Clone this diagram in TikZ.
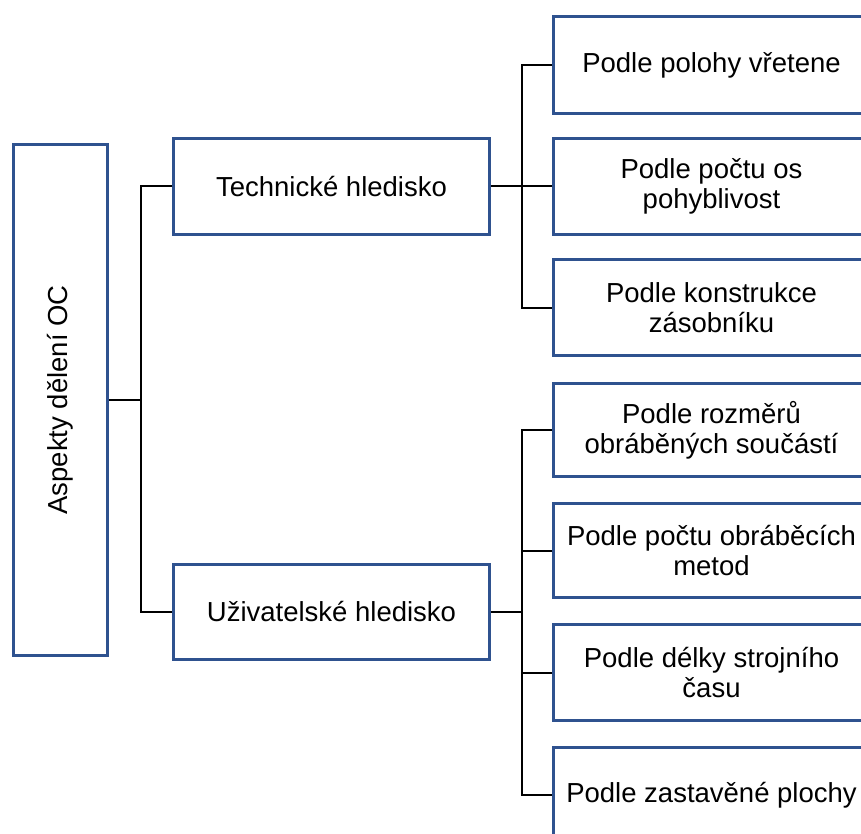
\documentclass[tikz,border=0pt]{standalone}
\usepackage{fontspec}
\setmainfont{Liberation Sans}
\definecolor{boxblue}{RGB}{47,82,143}
\begin{document}
\begin{tikzpicture}[x=1pt,y=-1pt,
  box/.style={draw=boxblue,line width=3pt,fill=white,align=center,inner sep=0pt,
    font=\fontsize{27.5}{30}\selectfont,text=black},
  conn/.style={draw=black,line width=2pt}]
\useasboundingbox (0,0) rectangle (861,834);
\clip (0,0) rectangle (861,834);
\node[box,minimum width=94pt,minimum height=511pt] (root) at (60.5,400) {};
\node[rotate=90,font=\fontsize{27.5}{30}\selectfont] (roottext) at (root.center) {Aspekty dělení OC};
\node[box,minimum width=316pt,minimum height=96pt] (tech) at (331.5,186.5) {Technické hledisko};
\node[box,minimum width=316pt,minimum height=95pt] (user) at (331.5,611.5) {Uživatelské hledisko};
\node[box,minimum width=316pt,minimum height=97pt] (c1) at (711.5,65) {Podle polohy vřetene};
\node[box,minimum width=316pt,minimum height=96pt] (c2) at (711.5,186.5) {Podle počtu os\\pohyblivost};
\node[box,minimum width=316pt,minimum height=96pt] (c3) at (711.5,307.5) {Podle konstrukce\\zásobníku};
\node[box,minimum width=316pt,minimum height=93pt] (c4) at (711.5,430) {Podle rozměrů\\obráběných součástí};
\node[box,minimum width=316pt,minimum height=94pt] (c5) at (711.5,550.5) {Podle počtu obráběcích\\metod};
\node[box,minimum width=316pt,minimum height=96pt] (c6) at (711.5,672.5) {Podle délky strojního\\času};
\node[box,minimum width=316pt,minimum height=96pt] (c7) at (711.5,795) {Podle zastavěné plochy};
\coordinate (j1) at (141,400);
\coordinate (j2) at (522,186.5);
\coordinate (j3) at (522,611.5);
\draw[conn] (root.east |- j1) -- (j1);
\draw[conn] (tech.west) -| (j1) |- (user.west);
\draw[conn] (tech.east) -- (c2.west);
\draw[conn] (c1.west) -| (j2) |- (c3.west);
\draw[conn] (user.east) -- (j3);
\draw[conn] (c4.west) -| (j3) |- (c7.west);
\draw[conn] (c5.west) -- (c5.west -| j3);
\draw[conn] (c6.west) -- (c6.west -| j3);
\end{tikzpicture}
\end{document}
